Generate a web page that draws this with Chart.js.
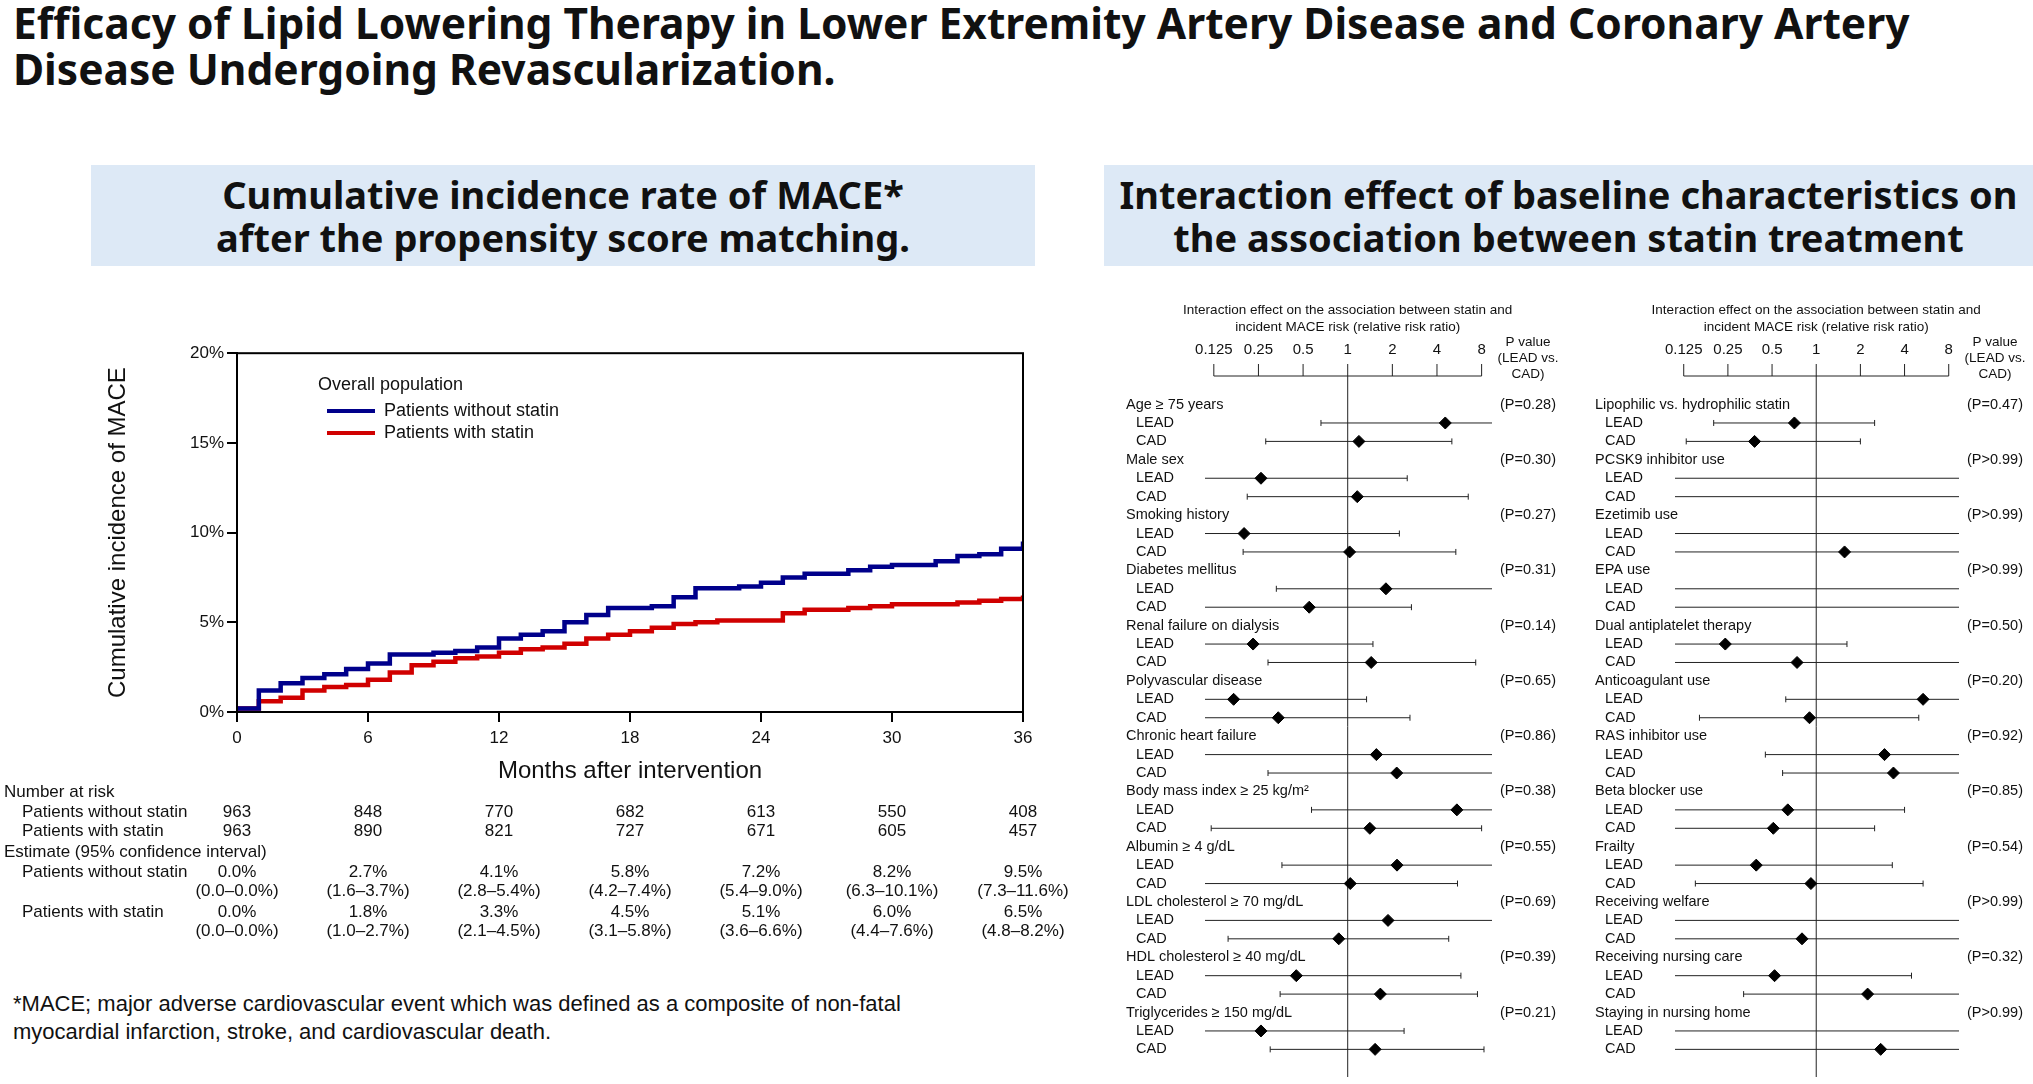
<!DOCTYPE html>
<html>
<head>
<meta charset="utf-8">
<script src="https://cdn.jsdelivr.net/npm/chart.js@4"></script>
<style>
  body { margin: 0; width: 2033px; height: 1084px; background: #fff; position: relative; overflow: hidden;
         font-family: "Noto Sans", "Liberation Sans", sans-serif; }
  .abs { position: absolute; }
  h1 { position: absolute; left: 13px; top: 0; margin: 0; font-size: 42.5px; line-height: 46px; font-weight: 700; color: #111; }
  .box { position: absolute; top: 165px; height: 101px; background: #dde9f6; display: flex; align-items: center;
         justify-content: center; text-align: center; font-weight: 700; font-size: 38px; line-height: 43px; color: #111; }
  canvas { position: absolute; }
  .foot { left: 13px; top: 990px; font-size: 22px; line-height: 28px; color: #111; font-family: "Liberation Sans", sans-serif; }
  .leg { font-family: "Liberation Sans", Arial, sans-serif; font-size: 18px; color: #111; }
</style>
</head>
<body>
<h1>Efficacy of Lipid Lowering Therapy in Lower Extremity Artery Disease and Coronary Artery<br>Disease Undergoing Revascularization.</h1>
<div class="box" style="left:91px;width:944px;">Cumulative incidence rate of MACE*<br>after the propensity score matching.</div>
<div class="box" style="left:1104px;width:929px;">Interaction effect of baseline characteristics on<br>the association between statin treatment</div>

<canvas id="km" style="left:0;top:340px;width:1095px;height:610px;"></canvas>
<div class="abs leg" style="left:318px;top:374px;">Overall population</div>
<div class="abs" style="left:327px;top:409px;width:48px;height:4px;background:#00008b;"></div>
<div class="abs leg" style="left:384px;top:400px;">Patients without statin</div>
<div class="abs" style="left:327px;top:431px;width:48px;height:4px;background:#d00000;"></div>
<div class="abs leg" style="left:384px;top:422px;">Patients with statin</div>
<div class="abs foot">*MACE; major adverse cardiovascular event which was defined as a composite of non-fatal<br>myocardial infarction, stroke, and cardiovascular death.</div>

<canvas id="forestL" style="left:1100px;top:290px;width:470px;height:794px;"></canvas>
<canvas id="forestR" style="left:1570px;top:290px;width:463px;height:794px;"></canvas>

<script>
// ---- Kaplan-Meier data ----
const kmMonths   = [0, 1, 2, 3, 4, 5, 6, 7, 8, 9, 10, 11, 12, 13, 14, 15, 16, 17, 18, 19, 20, 21, 22, 23, 24, 25, 26, 27, 28, 29, 30, 31, 32, 33, 34, 35, 36];
const kmWithout  = [0.2, 1.2, 1.6, 1.9, 2.1, 2.4, 2.7, 3.2, 3.2, 3.3, 3.4, 3.6, 4.1, 4.3, 4.5, 5.0, 5.4, 5.8, 5.8, 5.9, 6.4, 6.9, 6.9, 7.0, 7.2, 7.5, 7.7, 7.7, 7.9, 8.1, 8.2, 8.2, 8.4, 8.7, 8.8, 9.1, 9.5];
const kmWith     = [0.2, 0.6, 0.8, 1.2, 1.4, 1.5, 1.8, 2.2, 2.6, 2.8, 3.0, 3.1, 3.3, 3.5, 3.6, 3.8, 4.1, 4.3, 4.5, 4.7, 4.9, 5.0, 5.1, 5.1, 5.1, 5.5, 5.7, 5.7, 5.8, 5.9, 6.0, 6.0, 6.0, 6.1, 6.2, 6.3, 6.5];

const riskMonths     = [0, 6, 12, 18, 24, 30, 36];
const atRiskWithout  = ["963", "848", "770", "682", "613", "550", "408"];
const atRiskWith     = ["963", "890", "821", "727", "671", "605", "457"];
const estWithout     = ["0.0%", "2.7%", "4.1%", "5.8%", "7.2%", "8.2%", "9.5%"];
const ciWithout      = ["(0.0\u20130.0%)", "(1.6\u20133.7%)", "(2.8\u20135.4%)", "(4.2\u20137.4%)", "(5.4\u20139.0%)", "(6.3\u201310.1%)", "(7.3\u201311.6%)"];
const estWith        = ["0.0%", "1.8%", "3.3%", "4.5%", "5.1%", "6.0%", "6.5%"];
const ciWith         = ["(0.0\u20130.0%)", "(1.0\u20132.7%)", "(2.1\u20134.5%)", "(3.1\u20135.8%)", "(3.6\u20136.6%)", "(4.4\u20137.6%)", "(4.8\u20138.2%)"];

// ---- Forest plot data: [lower, estimate, upper]; null estimate = not estimable ----
const forestTicks = [0.125, 0.25, 0.5, 1, 2, 4, 8];
const leftGroups = ["Age \u2265 75 years", "Male sex", "Smoking history", "Diabetes mellitus", "Renal failure on dialysis",
  "Polyvascular disease", "Chronic heart failure", "Body mass index \u2265 25 kg/m\u00b2", "Albumin \u2265 4 g/dL",
  "LDL cholesterol \u2265 70 mg/dL", "HDL cholesterol \u2265 40 mg/dL", "Triglycerides \u2265 150 mg/dL"];
const leftP = ["(P=0.28)", "(P=0.30)", "(P=0.27)", "(P=0.31)", "(P=0.14)", "(P=0.65)", "(P=0.86)", "(P=0.38)", "(P=0.55)", "(P=0.69)", "(P=0.39)", "(P=0.21)"];
const leftLead = [[0.66, 4.55, 10], [0.1, 0.26, 2.52], [0.1, 0.20, 2.23], [0.33, 1.81, 10], [0.1, 0.23, 1.48], [0.1, 0.17, 1.34],
  [0.1, 1.56, 10], [0.57, 5.45, 10], [0.36, 2.15, 10], [0.1, 1.87, 10], [0.1, 0.45, 5.8], [0.1, 0.26, 2.4]];
const leftCad = [[0.28, 1.19, 5.04], [0.21, 1.16, 6.5], [0.197, 1.03, 5.36], [0.1, 0.55, 2.69], [0.29, 1.44, 7.3], [0.1, 0.34, 2.63],
  [0.29, 2.14, 10], [0.12, 1.41, 8.0], [0.1, 1.04, 5.5], [0.156, 0.87, 4.8], [0.35, 1.66, 7.5], [0.30, 1.53, 8.3]];

const rightGroups = ["Lipophilic vs. hydrophilic statin", "PCSK9 inhibitor use", "Ezetimib use", "EPA use", "Dual antiplatelet therapy",
  "Anticoagulant use", "RAS inhibitor use", "Beta blocker use", "Frailty", "Receiving welfare", "Receiving nursing care", "Staying in nursing home"];
const rightP = ["(P=0.47)", "(P>0.99)", "(P>0.99)", "(P>0.99)", "(P=0.50)", "(P=0.20)", "(P=0.92)", "(P=0.85)", "(P=0.54)", "(P>0.99)", "(P=0.32)", "(P>0.99)"];
const rightLead = [[0.2, 0.71, 2.5], [0.1, null, 10], [0.1, null, 10], [0.1, null, 10], [0.1, 0.24, 1.62], [0.62, 5.35, 10],
  [0.45, 2.92, 10], [0.1, 0.64, 4.0], [0.1, 0.39, 3.3], [0.1, null, 10], [0.1, 0.52, 4.46], [0.1, null, 10]];
const rightCad = [[0.13, 0.38, 2.0], [0.1, null, 10], [0.1, 1.56, 10], [0.1, null, 10], [0.1, 0.74, 10], [0.16, 0.9, 5.0],
  [0.59, 3.36, 10], [0.1, 0.51, 2.5], [0.15, 0.92, 5.35], [0.1, 0.8, 10], [0.32, 2.24, 10], [0.1, 2.75, 10]];

const TXT = "#111";
const ARIAL = '"Liberation Sans", Arial, sans-serif';

// ---------- KM chart ----------
const kmExtras = {
  id: "kmExtras",
  afterDraw(chart) {
    const { ctx, chartArea: a, scales: { x } } = chart;
    ctx.save();
    ctx.strokeStyle = "#000";
    ctx.lineWidth = 2;
    ctx.strokeRect(a.left, a.top, a.right - a.left, a.bottom - a.top);
    ctx.fillStyle = TXT;
    ctx.font = "17px " + ARIAL;
    ctx.textBaseline = "middle";
    const base = 792 - 340;
    const rowsY = [0, 20, 39, 60, 80, 99, 120, 139].map(d => base + d);
    ctx.textAlign = "left";
    ctx.fillText("Number at risk", 4, rowsY[0]);
    ctx.fillText("Patients without statin", 22, rowsY[1]);
    ctx.fillText("Patients with statin", 22, rowsY[2]);
    ctx.fillText("Estimate (95% confidence interval)", 4, rowsY[3]);
    ctx.fillText("Patients without statin", 22, rowsY[4]);
    ctx.fillText("Patients with statin", 22, rowsY[6]);
    ctx.textAlign = "center";
    riskMonths.forEach((m, i) => {
      const px = x.getPixelForValue(m);
      ctx.fillText(atRiskWithout[i], px, rowsY[1]);
      ctx.fillText(atRiskWith[i], px, rowsY[2]);
      ctx.fillText(estWithout[i], px, rowsY[4]);
      ctx.fillText(ciWithout[i], px, rowsY[5]);
      ctx.fillText(estWith[i], px, rowsY[6]);
      ctx.fillText(ciWith[i], px, rowsY[7]);
    });
    ctx.restore();
  }
};

new Chart(document.getElementById("km"), {
  type: "line",
  data: {
    labels: kmMonths,
    datasets: [
      { label: "Patients without statin", data: kmMonths.map((m, i) => ({ x: m, y: kmWithout[i] })), borderColor: "#00008b", borderWidth: 4.5, stepped: true, pointRadius: 0 },
      { label: "Patients with statin", data: kmMonths.map((m, i) => ({ x: m, y: kmWith[i] })), borderColor: "#d00000", borderWidth: 4.5, stepped: true, pointRadius: 0 },
    ],
  },
  options: {
    responsive: false,
    animation: false,
    layout: { padding: { left: 100, right: 72, top: 11, bottom: 160 } },
    plugins: { legend: { display: false }, tooltip: { enabled: false } },
    scales: {
      x: {
        type: "linear", min: 0, max: 36,
        afterFit: s => { s.height = 78; },
        grid: { drawOnChartArea: false, color: "#000", tickLength: 10, lineWidth: 2 },
        border: { color: "#000", width: 2 },
        ticks: { stepSize: 6, color: TXT, font: { size: 17, family: ARIAL }, padding: 6 },
        title: { display: true, text: "Months after intervention", color: TXT, font: { size: 24, family: ARIAL }, padding: { top: 2 } },
      },
      y: {
        min: 0, max: 20,
        afterFit: s => { s.width = 137; },
        grid: { drawOnChartArea: false, color: "#000", tickLength: 10, lineWidth: 2 },
        border: { color: "#000", width: 2 },
        ticks: { stepSize: 5, color: TXT, font: { size: 17, family: ARIAL }, callback: v => v + "%" },
        title: { display: true, text: "Cumulative incidence of MACE", color: TXT, font: { size: 24, family: ARIAL } },
      },
    },
  },
  plugins: [kmExtras],
});

// ---------- Forest plots ----------
function forestChart(id, groups, pvals, lead, cad, labelX, pX) {
  const rows = [];
  groups.forEach((g, i) => {
    rows.push({ text: g, indent: false, p: pvals[i] });
    rows.push({ text: "LEAD", indent: true, ci: lead[i] });
    rows.push({ text: "CAD", indent: true, ci: cad[i] });
  });
  const points = [];
  rows.forEach((r, i) => { if (r.ci && r.ci[1] != null) points.push({ x: r.ci[1], y: i }); });

  const extras = {
    id: "forestExtras",
    beforeDatasetsDraw(chart) {
      const { ctx, chartArea: a, scales: { x, y } } = chart;
      ctx.save();
      ctx.fillStyle = TXT;
      ctx.strokeStyle = "#222";
      ctx.font = "13.5px " + ARIAL;
      ctx.textAlign = "center";
      ctx.textBaseline = "middle";
      const cx = x.getPixelForValue(1);
      ctx.fillText("Interaction effect on the association between statin and", cx, 20);
      ctx.fillText("incident MACE risk (relative risk ratio)", cx, 37);
      const x0 = x.getPixelForValue(forestTicks[0]), x1 = x.getPixelForValue(forestTicks[forestTicks.length - 1]);
      ctx.lineWidth = 1;
      ctx.beginPath();
      ctx.moveTo(x0, a.top); ctx.lineTo(x1, a.top);
      forestTicks.forEach(t => { const px = x.getPixelForValue(t); ctx.moveTo(px, a.top); ctx.lineTo(px, a.top - 12); });
      ctx.stroke();
      ctx.font = "15px " + ARIAL;
      forestTicks.forEach(t => ctx.fillText(String(t), x.getPixelForValue(t), 60));
      ctx.font = "13.5px " + ARIAL;
      ctx.fillText("P value", pX, 52);
      ctx.fillText("(LEAD vs.", pX, 68);
      ctx.fillText("CAD)", pX, 84);
      ctx.beginPath();
      ctx.moveTo(cx, a.top); ctx.lineTo(cx, a.bottom);
      ctx.stroke();
      rows.forEach((r, i) => {
        const py = y.getPixelForValue(i);
        ctx.textAlign = "left";
        ctx.font = "14.5px " + ARIAL;
        ctx.fillText(r.text, r.indent ? labelX + 10 : labelX, py);
        if (r.p) { ctx.textAlign = "center"; ctx.fillText(r.p, pX, py); }
        if (r.ci) {
          const lo = Math.max(x.getPixelForValue(r.ci[0]), a.left);
          const hi = Math.min(x.getPixelForValue(r.ci[2]), a.right);
          ctx.beginPath();
          ctx.moveTo(lo, py); ctx.lineTo(hi, py);
          if (r.ci[0] >= x.min) { ctx.moveTo(lo, py - 3); ctx.lineTo(lo, py + 3); }
          if (r.ci[2] <= x.max) { ctx.moveTo(hi, py - 3); ctx.lineTo(hi, py + 3); }
          ctx.stroke();
        }
      });
      ctx.restore();
    }
  };

  new Chart(document.getElementById(id), {
    type: "scatter",
    data: { datasets: [{ data: points, pointStyle: "rectRot", pointRadius: 6, backgroundColor: "#000", borderColor: "#000" }] },
    options: {
      responsive: false,
      animation: false,
      layout: { padding: { left: 105, right: id === "forestL" ? 78 : 74, top: 86, bottom: 0 } },
      plugins: { legend: { display: false }, tooltip: { enabled: false } },
      scales: {
        x: { type: "logarithmic", min: 0.109, max: 9.4, display: false },
        y: { type: "linear", min: -1.55, max: 36.5, reverse: true, display: false },
      },
    },
    plugins: [extras],
  });
}

forestChart("forestL", leftGroups, leftP, leftLead, leftCad, 26, 428);
forestChart("forestR", rightGroups, rightP, rightLead, rightCad, 25, 425);
</script>
</body>
</html>
